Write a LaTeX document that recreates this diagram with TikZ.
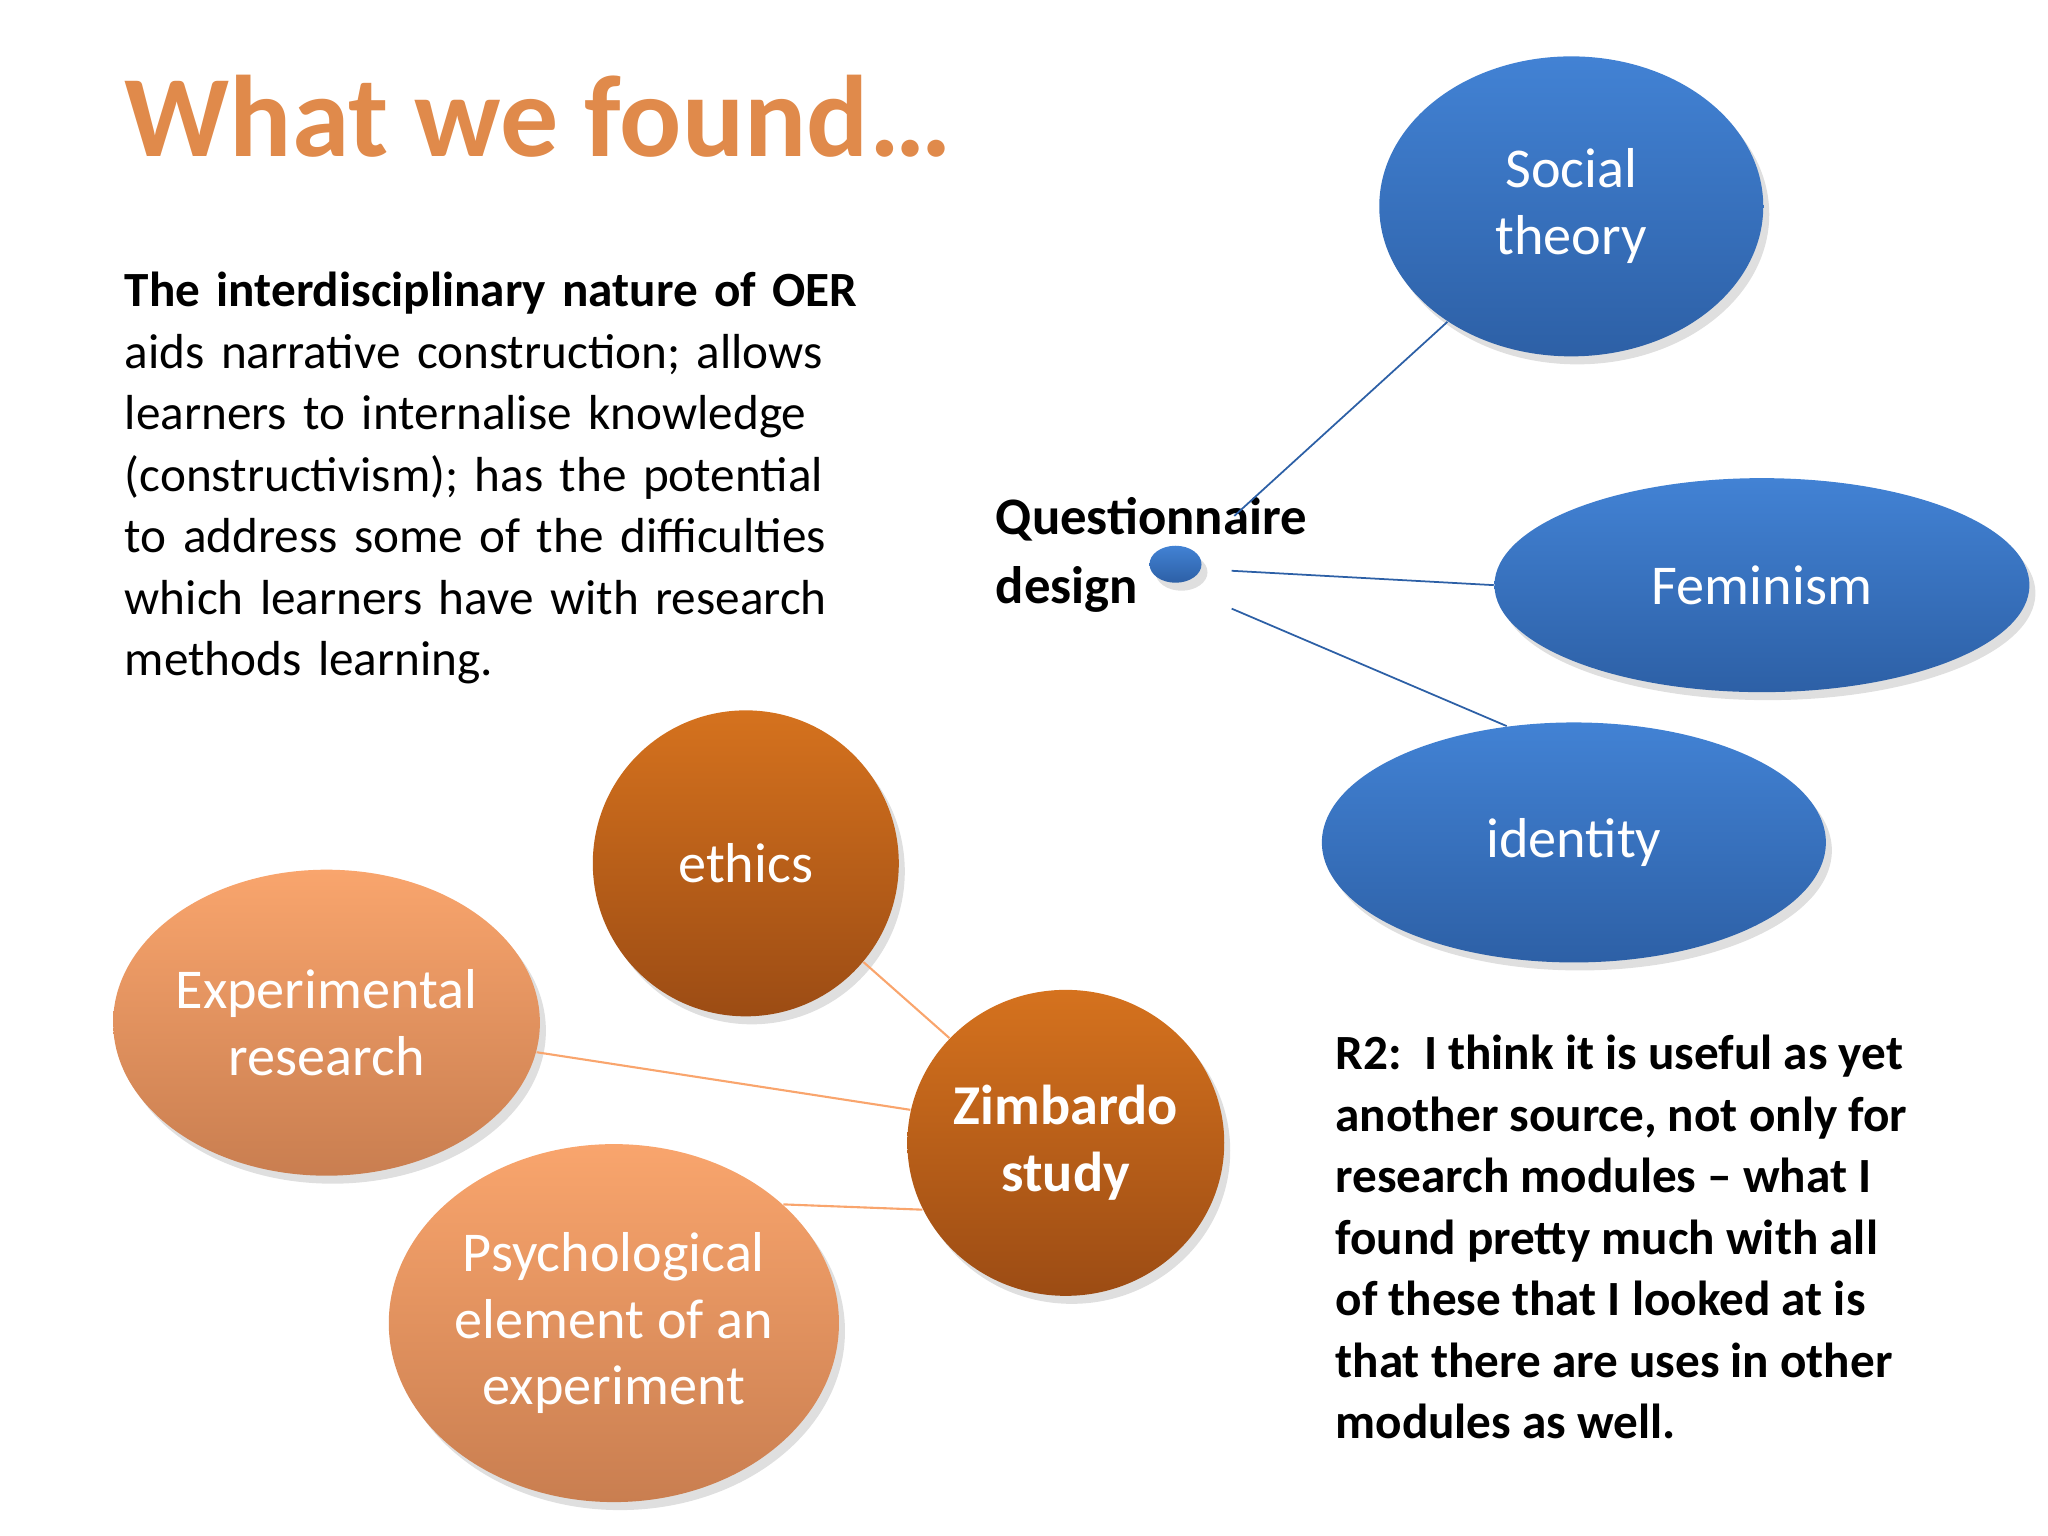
\documentclass[tikz,border=0pt]{standalone}
\usepackage{fontspec}
\setmainfont{Carlito}
\usetikzlibrary{shapes.geometric,shadows}
\definecolor{ttl}{HTML}{E08A4B}
\tikzset{
 blob/.style={ellipse,inner sep=0pt,align=center,text=white,font=\fontsize{16}{19}\selectfont,drop shadow={opacity=0.25,shadow xshift=0.06cm,shadow yshift=-0.08cm}},
 blue/.style={blob,top color=blue!45!cyan!60!black!0!white!0!blue!0!blueA,bottom color=blueB},
 dorg/.style={blob,top color=orgA,bottom color=orgB},
 lorg/.style={blob,top color=lorA,bottom color=lorB},
 bline/.style={draw=blueB,line width=0.5pt},
 oline/.style={draw=lorA,line width=0.6pt}
}
\definecolor{blueA}{HTML}{4282D4}
\definecolor{blueB}{HTML}{2D60A6}
\definecolor{orgA}{HTML}{D5721E}
\definecolor{orgB}{HTML}{9C4C14}
\definecolor{lorA}{HTML}{F9A56D}
\definecolor{lorB}{HTML}{C97E50}
\begin{document}
\begin{tikzpicture}[x=0.01306cm,y=-0.01306cm]
\useasboundingbox (0,0) rectangle (1568,1176);
\node[anchor=base west,text=ttl,font=\fontsize{33}{36}\selectfont\bfseries,inner sep=0] (title) at (95,120) {What we found…};
\node[anchor=north west,align=left,inner sep=0,font=\fontsize{14}{17.5}\selectfont,text width=12cm] (para) at (95,208) {\textbf{The interdisciplinary nature of OER}\\aids narrative construction; allows\\learners to internalise knowledge\\(constructivism); has the potential\\to address some of the difficulties\\which learners have with research\\methods learning.};
\node[anchor=north west,align=left,inner sep=0,font=\fontsize{15}{19.7}\selectfont\bfseries] (qd) at (762,380) {Questionnaire\\design};
\node[anchor=north west,align=left,inner sep=0,font=\fontsize{14}{17.5}\selectfont\bfseries] (r2) at (1022,792) {R2:\ \ I think it is useful as yet\\another source, not only for\\research modules -- what I\\found pretty much with all\\of these that I looked at is\\that there are uses in other\\modules as well.};
% blue
\node[blob,top color=blueA,bottom color=blueB,minimum width=3.84cm,minimum height=3.0cm] (soc) at (1203,158) {Social\\theory};
\node[blob,top color=blueA,bottom color=blueB,minimum width=5.35cm,minimum height=2.14cm] (fem) at (1349,448) {Feminism};
\node[blob,top color=blueA,bottom color=blueB,minimum width=5.04cm,minimum height=2.4cm] (id) at (1205,645) {identity};
\node[blob,top color=blueA,bottom color=blueB,minimum width=0.52cm,minimum height=0.37cm] (dot) at (900,432) {};
\coordinate (c1) at (945,395);
\coordinate (c2) at (943,437);
\coordinate (c3) at (943,466);
\draw[bline] (c1) -- (soc.-137);
\draw[bline] (c2) -- (fem.west);
\draw[bline] (c3) -- (id.120);
% orange
\node[blob,top color=orgA,bottom color=orgB,minimum width=3.06cm,minimum height=3.06cm] (eth) at (571,661) {ethics};
\node[blob,top color=orgA,bottom color=orgB,minimum width=3.06cm,minimum height=3.06cm,font=\fontsize{16}{19}\selectfont\bfseries] (zim) at (816,875) {Zimbardo\\study};
\node[blob,top color=lorA,bottom color=lorB,minimum width=4.13cm,minimum height=3.06cm] (exp) at (250,783) {Experimental\\research};
\node[blob,top color=lorA,bottom color=lorB,minimum width=4.44cm,minimum height=3.58cm] (psy) at (470,1013) {Psychological\\element of an\\experiment};
\draw[oline] (eth.-40) -- (zim.138);
\draw[oline] (exp.-8) -- (zim.168);
\draw[oline] (psy.35) -- (zim.-155);
\end{tikzpicture}
\end{document}
